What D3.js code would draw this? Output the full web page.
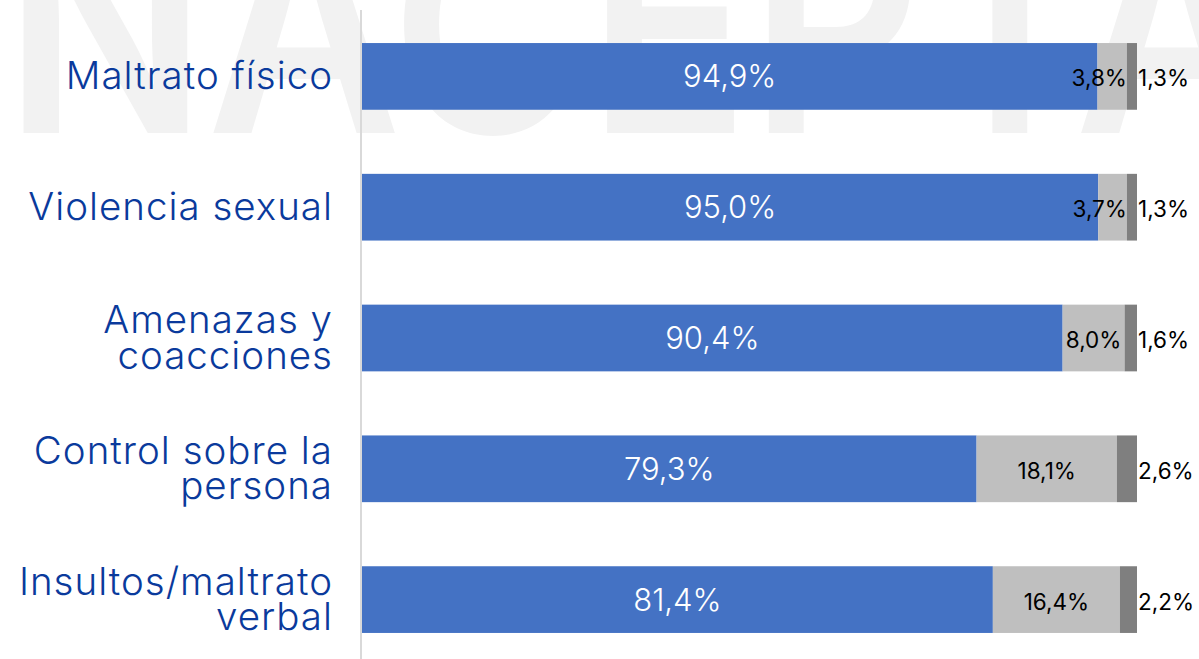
<!DOCTYPE html>
<html>
<head>
<meta charset="utf-8">
<script src="https://cdn.jsdelivr.net/npm/d3@7"></script>
<style>
    body { margin: 0; background: #fff; }
    text { font-family: Inter, "Open Sans", sans-serif; }
</style>
</head>
<body>
<script>
(function() {

    // Stacked horizontal bars, three parts per category (percentages)

    var categories = [
        "Maltrato físico",
        "Violencia sexual",
        "Amenazas y\ncoacciones",
        "Control sobre la\npersona",
        "Insultos/maltrato\nverbal"
    ];
    var seriesNames = ["s1", "s2", "s3"];
    var s1 = [94.9, 95.0, 90.4, 79.3, 81.4];
    var s2 = [3.8, 3.7, 8.0, 18.1, 16.4];
    var s3 = [1.3, 1.3, 1.6, 2.6, 2.2];

    var width = 1199,
        height = 659,
        left = 362,
        right = 1137;

    var colors = ["#4472c4", "#bfbfbf", "#7f7f7f"];

    // build rows for the stack
    var rows = categories.map(function(c, i) {
        return { cat: c, s1: s1[i], s2: s2[i], s3: s3[i] };
    });

    var stacked = d3.stack().keys(seriesNames)(rows);

    var x = d3.scaleLinear().domain([0, 100]).range([left, right]);
    var y = d3.scaleBand().domain(categories).range([11, 665]).paddingInner(0.49).paddingOuter(0.245);

    var fmt = function(v) { return v.toFixed(1).replace(".", ",") + "%"; };

    var svg = d3.select("body")
        .append("svg")
        .attr("width", width)
        .attr("height", height);

    // faint watermark behind everything
    svg.append("text")
        .attr("x", 4)
        .attr("y", 133)
        .attr("textLength", 1265)
        .attr("lengthAdjust", "spacingAndGlyphs")
        .style("font-size", "300px")
        .style("font-weight", 600)
        .style("fill", "#f2f2f2")
        .text("NACEPTA");

    // vertical axis line
    svg.append("line")
        .attr("x1", left - 1).attr("x2", left - 1)
        .attr("y1", 10).attr("y2", height)
        .attr("stroke", "#d9d9d9")
        .attr("stroke-width", 2);

    var layer = svg.selectAll("g.layer")
        .data(stacked)
        .enter().append("g")
        .attr("class", "layer")
        .attr("fill", function(d, i) { return colors[i]; });

    layer.selectAll("rect")
        .data(function(d) { return d; })
        .enter().append("rect")
        .attr("x", function(d) { return x(d[0]); })
        .attr("y", function(d) { return y(d.data.cat); })
        .attr("width", function(d) { return x(d[1]) - x(d[0]); })
        .attr("height", y.bandwidth());

    // value labels
    stacked.forEach(function(ser, si) {
        ser.forEach(function(d) {
            var cy = y(d.data.cat) + y.bandwidth() / 2;
            var v = d.data[ser.key];
            var t = svg.append("text").text(fmt(v));
            if (si === 0) {
                t.attr("x", (x(d[0]) + x(d[1])) / 2)
                    .attr("y", cy + 11)
                    .attr("text-anchor", "middle")
                    .style("font-size", "31px")
                    .style("font-weight", 300)
                    .style("fill", "#fff");
            } else if (si === 1) {
                t.style("font-size", "22.5px").style("fill", "#000");
                var w = t.node().getComputedTextLength();
                var segW = x(d[1]) - x(d[0]);
                if (w + 4 > segW) {
                    // too narrow: push it left so it ends at the segment end
                    t.attr("x", x(d[1]))
                        .attr("text-anchor", "end");
                } else {
                    t.attr("x", (x(d[0]) + x(d[1])) / 2)
                        .attr("text-anchor", "middle");
                }
                t.attr("y", cy + 10);
            } else {
                t.attr("x", x(d[1]) + 1)
                    .attr("y", cy + 10)
                    .style("font-size", "22.5px")
                    .style("fill", "#000");
            }
        });
    });

    // category labels, right aligned, one or two lines
    categories.forEach(function(c) {
        var lines = c.split("\n");
        var cy = y(c) + y.bandwidth() / 2;
        var lh = 35.6;
        var t = svg.append("text")
            .attr("text-anchor", "end")
            .style("font-size", "38.5px")
            .style("font-weight", 300)
            .style("letter-spacing", "1px")
            .style("fill", "#0a3a9c");
        lines.forEach(function(l, k) {
            t.append("tspan")
                .attr("x", 333)
                .attr("y", cy + 12.8 + (k - (lines.length - 1) / 2) * lh)
                .text(l);
        });
    });

})();
</script>
</body>
</html>
